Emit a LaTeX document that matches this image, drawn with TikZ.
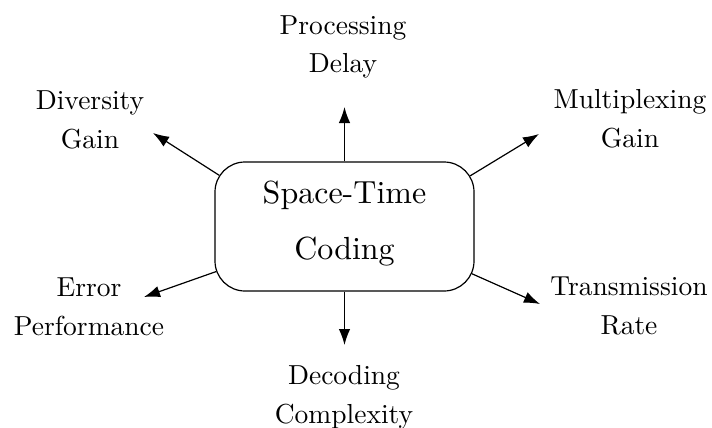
\documentclass[tikz,border=0pt]{standalone}
\usepackage{fontspec}
% use the 10pt design at every size
\setmainfont{lmroman10-regular}[Extension=.otf]
\usetikzlibrary{arrows.meta,calc}
\begin{document}
\begin{tikzpicture}[x=1pt,y=-1pt,
  lbl/.style={align=center,font=\fontsize{27.5}{39}\selectfont,anchor=base,inner sep=0pt},
  conn/.style={-{Latex[length=16pt,width=11.5pt]},line width=1.2pt},
  core/.style={draw,line width=1.2pt,rounded corners=30pt,minimum width=259pt,
    minimum height=129pt,align=center,text depth=12pt,font=\fontsize{32}{56}\selectfont}]
\useasboundingbox (0,0) rectangle (712,428);

% central concept
\node[core] (stc) at (344.5,226.5) {Space-Time\\Coding};

% surrounding properties
\node[lbl] (proc) at (343,73) {Processing\\Delay};
\node[lbl] (div) at (90,148) {Diversity\\Gain};
\node[lbl] (mux) at (630,147) {Multiplexing\\Gain};
\node[lbl] (err) at (89,335) {Error\\Performance};
\node[lbl] (rate) at (629,334) {Transmission\\Rate};
\node[lbl] (dec) at (344,423) {Decoding\\Complexity};

% arrow ends
\coordinate (tUp) at (344.5,107);
\coordinate (tDown) at (344.5,345);
\coordinate (tDiv) at (153,133);
\coordinate (tMux) at (539,134);
\coordinate (tErr) at (144,297);
\coordinate (tRate) at (540,304);

% centres of the rounded corners
\coordinate (cNW) at ($(stc.north west)+(30,30)$);
\coordinate (cNE) at ($(stc.north east)+(-30,30)$);
\coordinate (cSW) at ($(stc.south west)+(30,-30)$);
\coordinate (cSE) at ($(stc.south east)+(-30,-30)$);

\draw[conn] (stc.north) -- (tUp);
\draw[conn] (stc.south) -- (tDown);
\draw[conn] ($(cNW)!30pt!(tDiv)$) -- (tDiv);
\draw[conn] ($(cNE)!30pt!(tMux)$) -- (tMux);
\draw[conn] ($(cSW)!30pt!(tErr)$) -- (tErr);
\draw[conn] ($(cSE)!30pt!(tRate)$) -- (tRate);
\end{tikzpicture}
\end{document}
